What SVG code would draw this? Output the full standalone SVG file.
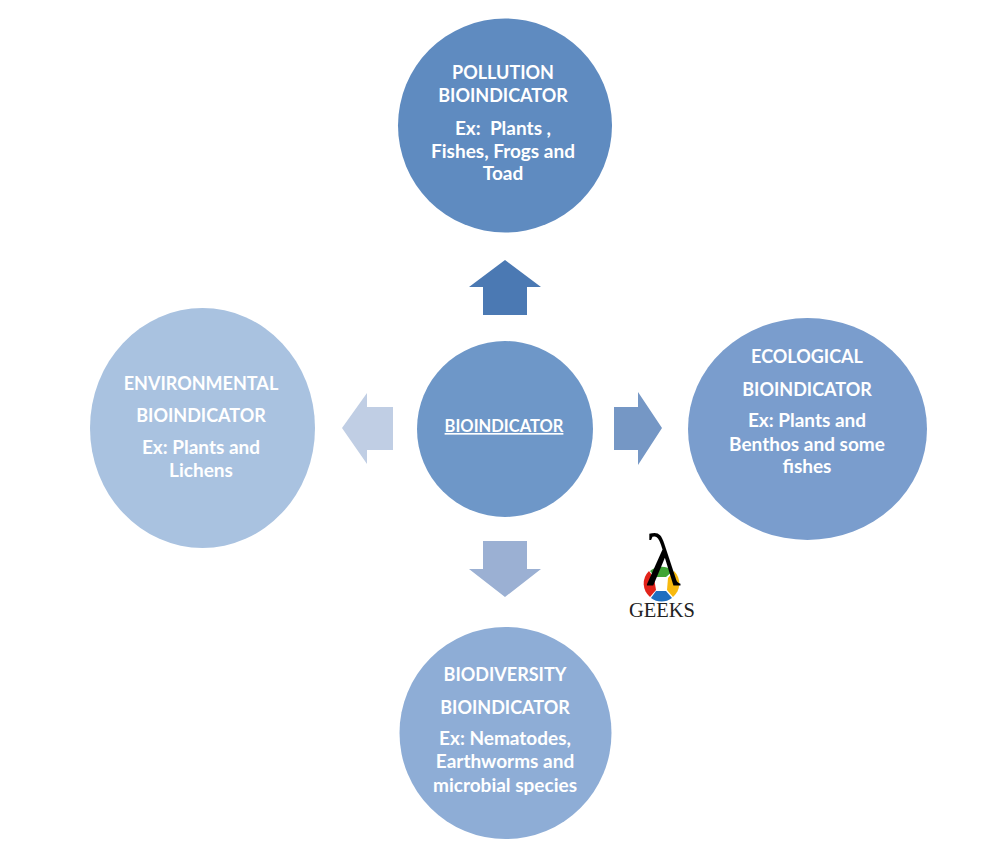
<svg xmlns="http://www.w3.org/2000/svg" width="998" height="855" viewBox="0 0 998 855">
<style>
.t{font-family:"Lato","Liberation Sans",sans-serif;font-weight:700;font-size:18px;fill:#fff;text-anchor:middle}
.e{font-size:19px}
.c{font-size:16.500px}
.g{font-family:"Liberation Serif",serif;text-anchor:middle}
</style>
<rect width="998" height="855" fill="#fff"/>
<g id="connectors">
<polygon fill="#4b79b3" points="505,260 541,287 527,287 527,315 483,315 483,287 469,287"/>
<polygon fill="#c0cee4" points="342,428 367,393 367,407 393,407 393,450 367,450 367,464"/>
<polygon fill="#7597c5" points="662,428 638,392 638,407 614,407 614,450 638,450 638,465"/>
<polygon fill="#9bb0d3" points="505,597 541,569 527,569 527,541 483,541 483,569 469,569"/>
</g>
<g id="pollution">
<circle cx="505" cy="125.500" r="107" fill="#5f8bc0"/>
<text class="t" x="503" y="79">POLLUTION</text>
<text class="t" x="503" y="102">BIOINDICATOR</text>
<text class="t e" x="503" y="135" xml:space="preserve">Ex:  Plants ,</text>
<text class="t e" x="503" y="158">Fishes, Frogs and</text>
<text class="t e" x="503" y="180">Toad</text>
</g>
<g id="bioindicator">
<ellipse cx="505" cy="429" rx="88" ry="88" fill="#6e97c8"/>
<text class="t c" x="504" y="432" text-decoration="underline">BIOINDICATOR</text>
</g>
<g id="environmental">
<ellipse cx="202.500" cy="428" rx="112.500" ry="120" fill="#a9c2e0"/>
<text class="t" x="201" y="390">ENVIRONMENTAL</text>
<text class="t" x="201" y="422">BIOINDICATOR</text>
<text class="t e" x="201" y="454">Ex: Plants and</text>
<text class="t e" x="201" y="477">Lichens</text>
</g>
<g id="ecological">
<ellipse cx="807.500" cy="429" rx="119.500" ry="111" fill="#7a9dcd"/>
<text class="t" x="807" y="363">ECOLOGICAL</text>
<text class="t" x="807" y="396">BIOINDICATOR</text>
<text class="t e" x="807" y="427">Ex: Plants and</text>
<text class="t e" x="807" y="451">Benthos and some</text>
<text class="t e" x="807" y="473">fishes</text>
</g>
<g id="biodiversity">
<circle cx="505.500" cy="733" r="106" fill="#8eadd6"/>
<text class="t" x="505" y="681">BIODIVERSITY</text>
<text class="t" x="505" y="714">BIOINDICATOR</text>
<text class="t e" x="505" y="745">Ex: Nematodes,</text>
<text class="t e" x="505" y="768">Earthworms and</text>
<text class="t e" x="505" y="792">microbial species</text>
</g>
<g id="geeks-logo">
<path d="M650 571 A17.500 17.500 0 0 1 673 571 L666 577 H655Z" fill="#3fa535"/>
<path d="M649 571 A17.500 17.500 0 0 0 650 597 L656 590 L654 578Z" fill="#e2231a"/>
<path d="M674 571 A17.500 17.500 0 0 1 673 597 L667 590 L668 578Z" fill="#f7b90f"/>
<path d="M651 598 A17.500 17.500 0 0 0 672 598 L666 591 H656Z" fill="#1f6fc0"/>
<text class="g" x="663" y="585" font-size="74" fill="#000">λ</text>
<text class="g" x="662" y="617" font-size="20.500" fill="#222">GEEKS</text>
</g>
</svg>
